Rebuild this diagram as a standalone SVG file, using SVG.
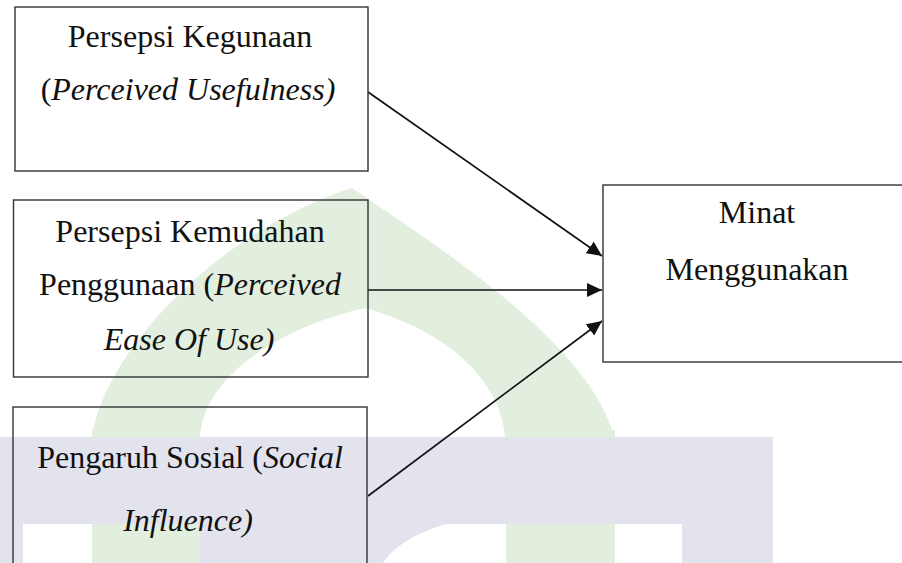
<svg xmlns="http://www.w3.org/2000/svg" width="902" height="563" viewBox="0 0 902 563">
<style>
.bg{fill:#ffffff}
.wm-g{fill:#e2efdf}
.wm-p{fill:#e3e3ee}
.box{fill:none;stroke:#333333;stroke-width:1.4}
.t{font-family:"Liberation Serif","Times New Roman",serif;font-size:32px;fill:#111111;text-anchor:middle}
.i{font-style:italic}
.edge{stroke:#111111;stroke-width:1.7;fill:none;marker-end:url(#ah)}
</style>
<defs>
<marker id="ah" markerUnits="userSpaceOnUse" markerWidth="16" markerHeight="14" refX="15" refY="7" orient="auto">
<path d="M0,0 L15,7 L0,14 Z" fill="#111111"/>
</marker>
</defs>
<rect class="bg" x="0" y="0" width="902" height="563"/>
<g id="watermark">
<path class="wm-g" d="M92,437 C105,350 220,230 352,188 C420,235 590,340 614,437 L505,437 C502,390 460,335 365,308 C290,325 205,370 200,437 Z"/>
<rect class="wm-g" x="92" y="430" width="108" height="133"/>
<rect class="wm-g" x="506" y="430" width="109" height="133"/>
<rect class="wm-p" x="0" y="437" width="773" height="87"/>
<rect class="wm-p" x="0" y="520" width="23" height="43"/>
<rect class="wm-p" x="682" y="520" width="91" height="43"/>
<path class="wm-p" d="M200,520 L460,520 C420,530 395,545 383,563 L200,563 Z"/>
</g>
<g id="connectors">
<line class="edge" x1="368" y1="92" x2="602" y2="256"/>
<line class="edge" x1="368" y1="290" x2="602" y2="290"/>
<line class="edge" x1="368" y1="496" x2="602" y2="321"/>
</g>
<g id="node-pu">
<rect class="box" x="15" y="7" width="353" height="164"/>
<text class="t" x="190" y="47">Persepsi Kegunaan</text>
<text class="t" x="188" y="100">(<tspan class="i">Perceived Usefulness)</tspan></text>
</g>
<g id="node-peou">
<rect class="box" x="13.5" y="200" width="354.5" height="177"/>
<text class="t" x="190" y="242">Persepsi Kemudahan</text>
<text class="t" x="190" y="295">Penggunaan (<tspan class="i">Perceived</tspan></text>
<text class="t i" x="189" y="350">Ease Of Use)</text>
</g>
<g id="node-si">
<rect class="box" x="13" y="407" width="354" height="170"/>
<text class="t" x="190" y="468">Pengaruh Sosial (<tspan class="i">Social</tspan></text>
<text class="t i" x="188" y="531">Influence)</text>
</g>
<g id="node-minat">
<rect class="box" x="603" y="185" width="310" height="177"/>
<text class="t" x="757" y="223">Minat</text>
<text class="t" x="757" y="280">Menggunakan</text>
</g>
</svg>
